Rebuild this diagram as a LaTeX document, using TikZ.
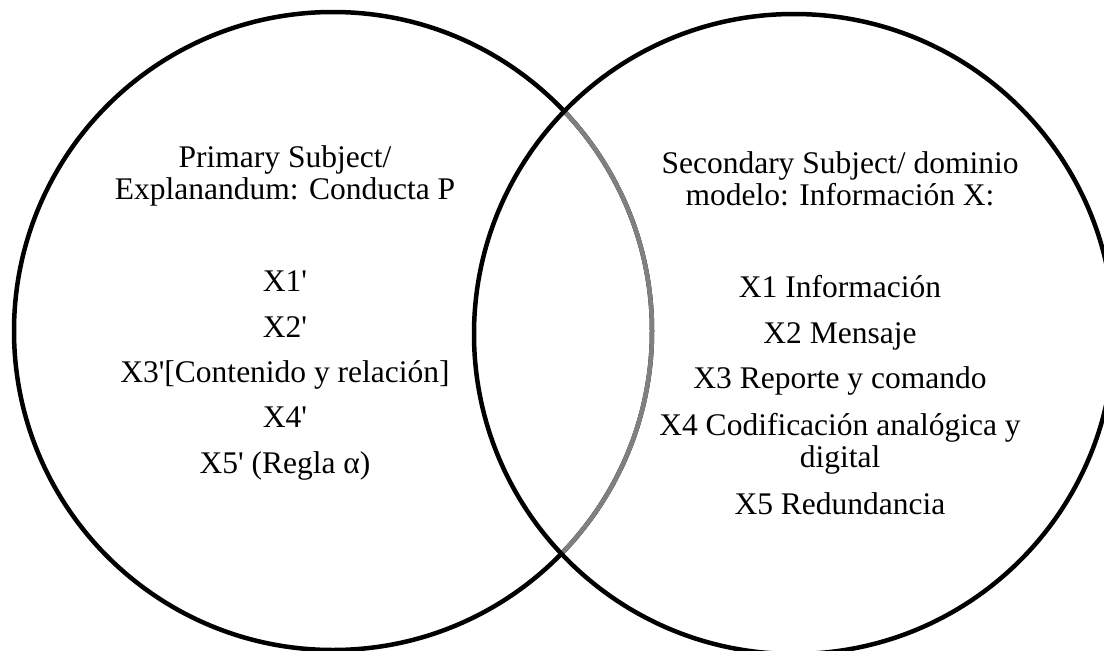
\documentclass[tikz,border=0pt]{standalone}
\usepackage{fontspec}
\setmainfont{Liberation Serif}[Ligatures=TeXOff]
\begin{document}
\begin{tikzpicture}[x=1pt,y=-1pt,
  ring/.style={line width=4.5pt},
  txt/.style={anchor=base,inner sep=0pt,font=\fontsize{31.5}{36}\selectfont}]
\useasboundingbox (0,0) rectangle (1104,651);
% centres of the two sets
\coordinate (L) at (333,331);
\coordinate (R) at (794,334);
% left set, black outside the overlap
\draw[ring] (L) circle[radius=319pt];
% the part of the left set that lies inside the right set is grey
\begin{scope}
  \clip (R) circle[radius=320pt];
  \draw[ring,draw={rgb,255:red,128;green,128;blue,128}] (L) circle[radius=319pt];
\end{scope}
% right set
\draw[ring] (R) circle[radius=320pt];
% left labels
\node[txt] (l1) at (285,167) {Primary Subject/};
\node[txt] (l2) at (285,199) {Explanandum: Conducta P};
\node[txt] (a1) at (285,291) {X1'};
\node[txt] (a2) at (285,337) {X2'};
\node[txt] (a3) at (285,382) {X3'[Contenido y relación]};
\node[txt] (a4) at (285,427) {X4'};
\node[txt] (a5) at (285,473) {X5' (Regla α)};
% right labels
\node[txt] (r1) at (840,173) {Secondary Subject/ dominio};
\node[txt] (r2) at (840,205) {modelo: Información X:};
\node[txt] (b1) at (840,297) {X1 Información};
\node[txt] (b2) at (840,343) {X2 Mensaje};
\node[txt] (b3) at (840,388) {X3 Reporte y comando};
\node[txt] (b4) at (840,435) {X4 Codificación analógica y};
\node[txt] (b4b) at (840,467) {digital};
\node[txt] (b5) at (840,514) {X5 Redundancia};
\end{tikzpicture}
\end{document}
